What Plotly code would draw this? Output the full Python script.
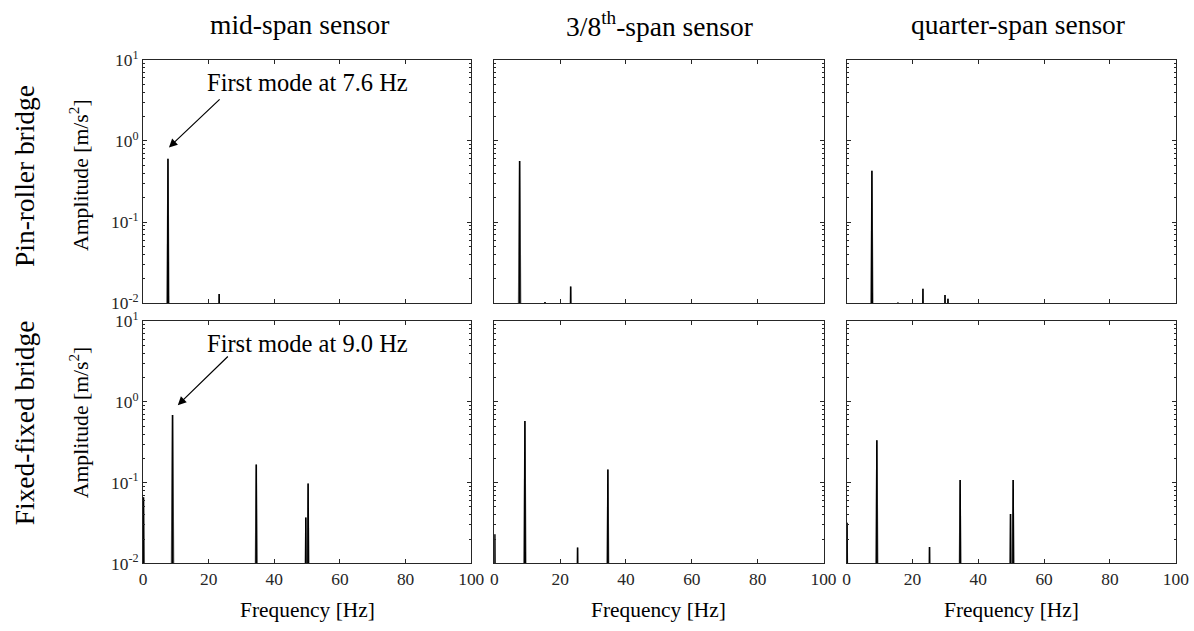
import plotly.graph_objects as go

# ---------------- data ----------------
col_titles = ["mid-span sensor", "3/8<sup>th</sup>-span sensor", "quarter-span sensor"]
row_titles = ["Pin-roller bridge", "Fixed-fixed bridge"]
y_title = "Amplitude [m/s<sup>2</sup>]"
x_title = "Frequency [Hz]"
notes = ["First mode at 7.6 Hz", "First mode at 9.0 Hz"]

# peak frequencies [Hz] and amplitudes [m/s^2]
pr_mid_f = [7.6, 23.2]
pr_mid_a = [0.605, 0.013]
pr_38_f = [7.7, 15.4, 23.2]
pr_38_a = [0.566, 0.0103, 0.016]
pr_q_f = [7.7, 15.6, 23.2, 29.9, 30.8]
pr_q_a = [0.43, 0.0102, 0.015, 0.0126, 0.0113]

ff_mid_f = [0.15, 9.0, 34.5, 49.6, 50.3]
ff_mid_a = [0.066, 0.69, 0.168, 0.037, 0.098]
ff_38_f = [0.15, 9.3, 25.3, 34.5]
ff_38_a = [0.023, 0.58, 0.0157, 0.146]
ff_q_f = [0.15, 9.2, 25.2, 34.5, 49.8, 50.6]
ff_q_a = [0.032, 0.336, 0.016, 0.108, 0.041, 0.108]

panels = [
    (pr_mid_f, pr_mid_a), (pr_38_f, pr_38_a), (pr_q_f, pr_q_a),
    (ff_mid_f, ff_mid_a), (ff_38_f, ff_38_a), (ff_q_f, ff_q_a),
]

x_ticks = [0, 20, 40, 60, 80, 100]
y_ticks = [0.01, 0.1, 1, 10]
y_ticktext = ["10<sup>-2</sup>", "10<sup>-1</sup>", "10<sup>0</sup>", "10<sup>1</sup>"]
y_minor = [m * 10 ** e for e in (-2, -1, 0) for m in range(2, 10)]

FLOOR = 1e-4

def spikes(freqs, amps, left, right):
    xs, ys = [], []
    for f, a in zip(freqs, amps):
        xs += [max(f - left, 0), f, f + right, None]
        ys += [FLOOR, a, FLOOR, None]
    return xs, ys

# ---------------- geometry ----------------
W, H = 1194, 631
# the page is photographed slightly shrunk; map wanted picture pixels to paper pixels
OX, KX, OY, KY = 4.1, 0.985, 12.2, 0.964
def px(F):
    return (F - OX) / KX / W
def py(F):
    return 1 - (F - OY) / KY / H

xpix = [(143, 471), (494, 823), (846, 1175)]
ypix = [(60, 303), (321, 563)]
FONT = "Liberation Serif"
AX = "#262626"
TICKF = 17.4

fig = go.Figure()
layout = dict(
    width=W, height=H, margin=dict(l=0, r=0, t=0, b=0, pad=0), autosize=False,
    paper_bgcolor="white", plot_bgcolor="white", showlegend=False,
    font=dict(family=FONT, color=AX, size=TICKF),
)

for i, (fr, am) in enumerate(panels):
    r, c = divmod(i, 3)
    n = i + 1
    xa = "x" if n == 1 else f"x{n}"
    ya = "y" if n == 1 else f"y{n}"
    gx, gy = spikes(fr, am, 0.8, 0.8)
    fig.add_trace(go.Scatter(x=gx, y=gy, mode="lines", xaxis=xa, yaxis=ya,
                             line=dict(color="#8c8c8c", width=1.2), hoverinfo="skip"))
    bx, by = spikes(fr, am, 0.2, 0.2)
    fig.add_trace(go.Scatter(x=bx, y=by, mode="lines", xaxis=xa, yaxis=ya,
                             line=dict(color="black", width=1.6), hoverinfo="skip"))
    x0, x1 = xpix[c]
    y0, y1 = ypix[r]
    xkey = "xaxis" if n == 1 else f"xaxis{n}"
    ykey = "yaxis" if n == 1 else f"yaxis{n}"
    layout[xkey] = dict(
        domain=[px(x0), px(x1)], anchor=ya, range=[0, 100],
        tickvals=x_ticks, showticklabels=(r == 1), ticks="inside", ticklen=4,
        tickcolor=AX, showline=True, linecolor=AX, linewidth=1, mirror="ticks",
        showgrid=False, zeroline=False, tickfont=dict(size=TICKF, family=FONT, color=AX),
    )
    layout[ykey] = dict(
        domain=[py(y1), py(y0)], anchor=xa, type="log", range=[-2, 1],
        tickvals=y_ticks, ticktext=y_ticktext, showticklabels=(c == 0),
        ticks="inside", ticklen=4, tickcolor=AX, showline=True, linecolor=AX,
        linewidth=1, mirror="ticks", showgrid=False, zeroline=False,
        tickfont=dict(size=TICKF, family=FONT, color=AX),
        minor=dict(tickvals=y_minor, ticks="inside", ticklen=2, tickcolor=AX, showgrid=False),
    )

fig.update_layout(**layout)

def pa(fx, fy, **kw):
    d = dict(x=px(fx), y=py(fy), xref="paper", yref="paper",
             xanchor="center", yanchor="middle", showarrow=False)
    d.update(kw)
    return d

ann = []
title_x = [300, 659, 1017]
for c, t in enumerate(col_titles):
    x0, x1 = xpix[c]
    ann.append(dict(text=t, font=dict(size=27.5, family=FONT, color="black"), **pa(title_x[c], 25)))
    ann.append(dict(text=x_title, font=dict(size=21.4, family=FONT, color="black"),
                    **pa((x0 + x1) / 2, 620, y=0, yanchor="bottom", yshift=-3)))
row_y = [176, 422]
amp_y = [175, 422]
for r, t in enumerate(row_titles):
    ann.append(dict(text=t, textangle=-90, font=dict(size=27.4, family=FONT, color="black"),
                    **pa(25, row_y[r])))
    ann.append(dict(text=y_title, textangle=-90,
                    font=dict(size=21.7, family=FONT, color="black"), **pa(79, amp_y[r])))

ann.append(dict(text=notes[0], x=50, y=0.72, xref="x", yref="y", showarrow=False,
                xanchor="center", yanchor="middle", font=dict(size=24.5, family=FONT, color="black")))
ann.append(dict(text="", x=7.9, y=-0.08, xref="x", yref="y", ax=23.8, ay=0.53,
                axref="x", ayref="y", showarrow=True, arrowhead=2, arrowsize=1.4,
                arrowwidth=1.2, arrowcolor="black"))
ann.append(dict(text=notes[1], x=50, y=0.72, xref="x4", yref="y4", showarrow=False,
                xanchor="center", yanchor="middle", font=dict(size=24.5, family=FONT, color="black")))
ann.append(dict(text="", x=10.6, y=-0.04, xref="x4", yref="y4", ax=26.3, ay=0.58,
                axref="x4", ayref="y4", showarrow=True, arrowhead=2, arrowsize=1.4,
                arrowwidth=1.2, arrowcolor="black"))
fig.update_layout(annotations=ann)

fig.write_html("out.html")
